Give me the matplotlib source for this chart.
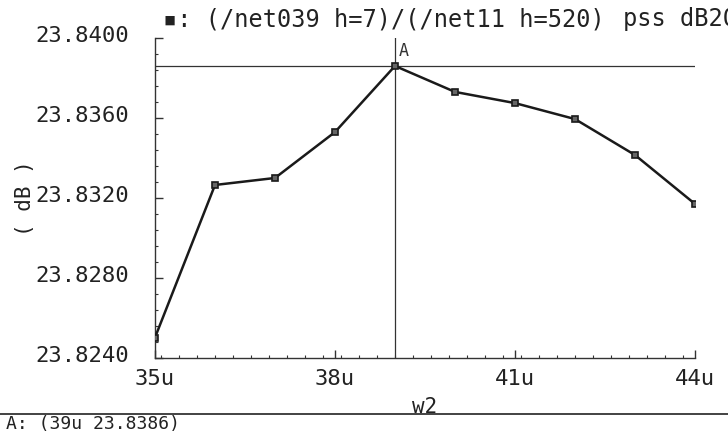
import matplotlib
matplotlib.use("Agg")
import matplotlib.pyplot as plt
from matplotlib.ticker import MultipleLocator, FuncFormatter
from matplotlib.lines import Line2D
import matplotlib.transforms as mtransforms

# sweep of w2 (in u) vs pss dB20 of the ratio
w2 = [35, 36, 37, 38, 39, 40, 41, 42, 43, 44]
db_vals = [23.8250, 23.83264, 23.83299, 23.83529, 23.8386,
           23.83730, 23.83674, 23.83594, 23.83414, 23.83169]

# cursor A sits on the peak point
cursor_x = 39
cursor_y = 23.8386

x_ticks = [35, 38, 41, 44]
y_ticks = [23.8240, 23.8280, 23.8320, 23.8360, 23.8400]

title_left = "\u25aa: (/net039 h=7)/(/net11 h=520)"
title_right = "pss dB20"

plt.rcParams['font.family'] = ['DejaVu Sans Mono', 'DejaVu Sans']

W, H = 728, 438
fig = plt.figure(figsize=(W / 100, H / 100), dpi=100)
ax = fig.add_axes([155 / W, 1 - 357.5 / H, 540 / W, 319.5 / H])

ink = "#1a1a1a"

ax.plot(w2, db_vals, color=ink, lw=1.8, marker='s', markersize=5,
        markerfacecolor="#666666", markeredgecolor=ink, markeredgewidth=1.2,
        zorder=3)

# cursor lines
ax.axvline(cursor_x, color="#333333", lw=0.9, zorder=2)
ax.axhline(cursor_y, color="#333333", lw=0.9, zorder=2)
ax.annotate("A", (cursor_x, cursor_y), xytext=(3, 4), textcoords="offset points",
            fontsize=12, color="#333333", ha="left", va="bottom")

ax.set_xlim(35, 44)
ax.set_ylim(23.8240, 23.8400)

ax.xaxis.set_minor_locator(MultipleLocator(0.3))
ax.yaxis.set_minor_locator(MultipleLocator(0.0008))
ax.set_xticks(x_ticks)
ax.set_yticks(y_ticks)
ax.xaxis.set_major_formatter(FuncFormatter(lambda v, p: f"{v:.0f}u"))
ax.yaxis.set_major_formatter(FuncFormatter(lambda v, p: f"{v:.4f}"))

for s in ["top", "right"]:
    ax.spines[s].set_visible(False)
for s in ["left", "bottom"]:
    ax.spines[s].set_linewidth(1.0)
    ax.spines[s].set_color("#333333")

ax.tick_params(axis="both", which="major", direction="in", length=6, width=1,
               color="#333333", labelsize=16, labelcolor="#222222")
ax.tick_params(axis="both", which="minor", direction="in", length=2.5, width=0.8,
               color="#333333")
ax.tick_params(axis="y", which="major", pad=19)
ax.tick_params(axis="x", which="major", pad=8)

# y labels sit a little above their ticks in the original
shift = mtransforms.ScaledTranslation(0, 4 / 100, fig.dpi_scale_trans)
for lab in ax.get_yticklabels():
    lab.set_transform(lab.get_transform() + shift)

ax.set_xlabel("w2", fontsize=15, color="#222222")
ax.xaxis.set_label_coords(0.5, -0.124)
ax.set_ylabel("( dB )", fontsize=15, color="#222222")
ax.yaxis.set_label_coords(-0.222, 0.5)

fig.text(163 / W, 1 - 19 / H, title_left, fontsize=17, color="#222222",
         ha="left", va="center")
fig.text(623 / W, 1 - 19 / H, title_right, fontsize=17, color="#222222",
         ha="left", va="center")

# cursor readout strip at the bottom
fig.add_artist(Line2D([0, 1], [1 - 414 / H, 1 - 414 / H], color="#222222", lw=1.2,
                      transform=fig.transFigure))
fig.text(6 / W, 1 - 424 / H, f"A: ({cursor_x}u {cursor_y:.4f})", fontsize=13,
         color="#222222", ha="left", va="center")

fig.savefig("out.png", dpi=100, facecolor="white")
